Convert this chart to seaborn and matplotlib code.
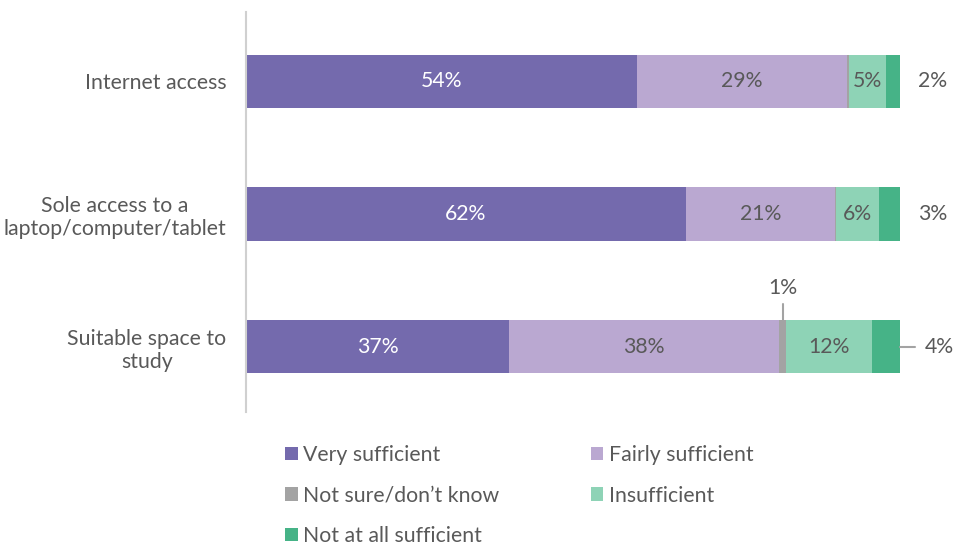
import numpy as np
import pandas as pd
import seaborn as sns
import matplotlib.pyplot as plt
from matplotlib.patches import Patch

# data (labels are the printed percentages)
categories = ["Internet access", "Sole access to a\nlaptop/computer/tablet", "Suitable space to\nstudy"]
series = ["Very sufficient", "Fairly sufficient", "Not sure/don\u2019t know", "Insufficient", "Not at all sufficient"]
very_sufficient = [54, 62, 37]
fairly_sufficient = [29, 21, 38]
not_sure = [0.3, 0.2, 1]
insufficient = [5, 6, 12]
not_at_all = [2, 3, 4]

colors = ["#746AAD", "#BAA8D1", "#A3A3A3", "#8ED3B6", "#46B387"]
text_color = "#595959"

df = pd.DataFrame(
    {"category": categories,
     series[0]: very_sufficient,
     series[1]: fairly_sufficient,
     series[2]: not_sure,
     series[3]: insufficient,
     series[4]: not_at_all}
)
# bars are drawn as 100% stacked
shares = df[series].div(df[series].sum(axis=1), axis=0) * 100
cum = shares.cumsum(axis=1)
cum["category"] = df["category"]

sns.set_style("white")
plt.rcParams["font.family"] = ["Lato", "DejaVu Sans"]
plt.rcParams["text.color"] = text_color

fig = plt.figure(figsize=(9.55, 5.43), dpi=100)
ax = fig.add_axes([246 / 955, 1 - 412 / 543, 654 / 955, 400 / 543])

# draw cumulative totals from the last series back to the first
for name, col in zip(series[::-1], colors[::-1]):
    sns.barplot(data=cum, x=name, y="category", color=col, width=0.4,
                orient="h", ax=ax, saturation=1, linewidth=0)

fs = 15.3
ax.set_xlim(0, 100)
ax.set_ylim(2.49, -0.52)
ax.set_xlabel("")
ax.set_ylabel("")
ax.set_xticks([])
ax.tick_params(axis="y", length=0, pad=14, labelsize=fs, labelcolor=text_color)
for lbl in ax.get_yticklabels():
    lbl.set_horizontalalignment("right")
    lbl.set_multialignment("center")
for s in ["top", "right", "bottom"]:
    ax.spines[s].set_visible(False)
ax.spines["left"].set_color("#D0D0D0")
ax.spines["left"].set_linewidth(1.5)

# labels inside segments
for i in range(len(categories)):
    starts = [0] + list(cum.iloc[i][series[:-1]])
    for j in [0, 1, 3]:
        val = df.iloc[i][series[j]]
        mid = starts[j] + shares.iloc[i][series[j]] / 2
        ax.text(mid, i, f"{val:g}%", ha="center", va="center", fontsize=fs,
                color="white" if j == 0 else text_color)

# small segments labelled outside
ax.text(105, 0, f"{not_at_all[0]}%", ha="center", va="center", fontsize=fs, clip_on=False)
ax.text(105, 1, f"{not_at_all[1]}%", ha="center", va="center", fontsize=fs, clip_on=False)
ax.plot([100, 102.3], [2, 2], color="#A3A3A3", lw=1.5, clip_on=False)
ax.text(103.8, 2, f"{not_at_all[2]}%", ha="left", va="center", fontsize=fs, clip_on=False)
ns_mid = cum.iloc[2][series[1]] + shares.iloc[2][series[2]] / 2
ax.plot([ns_mid, ns_mid], [1.8, 1.675], color="#A3A3A3", lw=1.5, clip_on=False)
ax.text(ns_mid, 1.56, f"{not_sure[2]:g}%", ha="center", va="center", fontsize=fs, clip_on=False)

# legend, row-major like the reference
order = [0, 2, 4, 1, 3]
handles = [Patch(facecolor=colors[k], edgecolor="none", label=series[k]) for k in order]
fig.legend(handles=handles, ncol=2, loc="upper left",
           bbox_to_anchor=(285 / 955, 1 - 445 / 543), frameon=False,
           fontsize=fs, handlelength=0.6, handleheight=0.6, handletextpad=0.25,
           labelspacing=0.97, columnspacing=4.3, borderpad=0, borderaxespad=0,
           labelcolor=text_color)

fig.savefig("out.png", dpi=100)
